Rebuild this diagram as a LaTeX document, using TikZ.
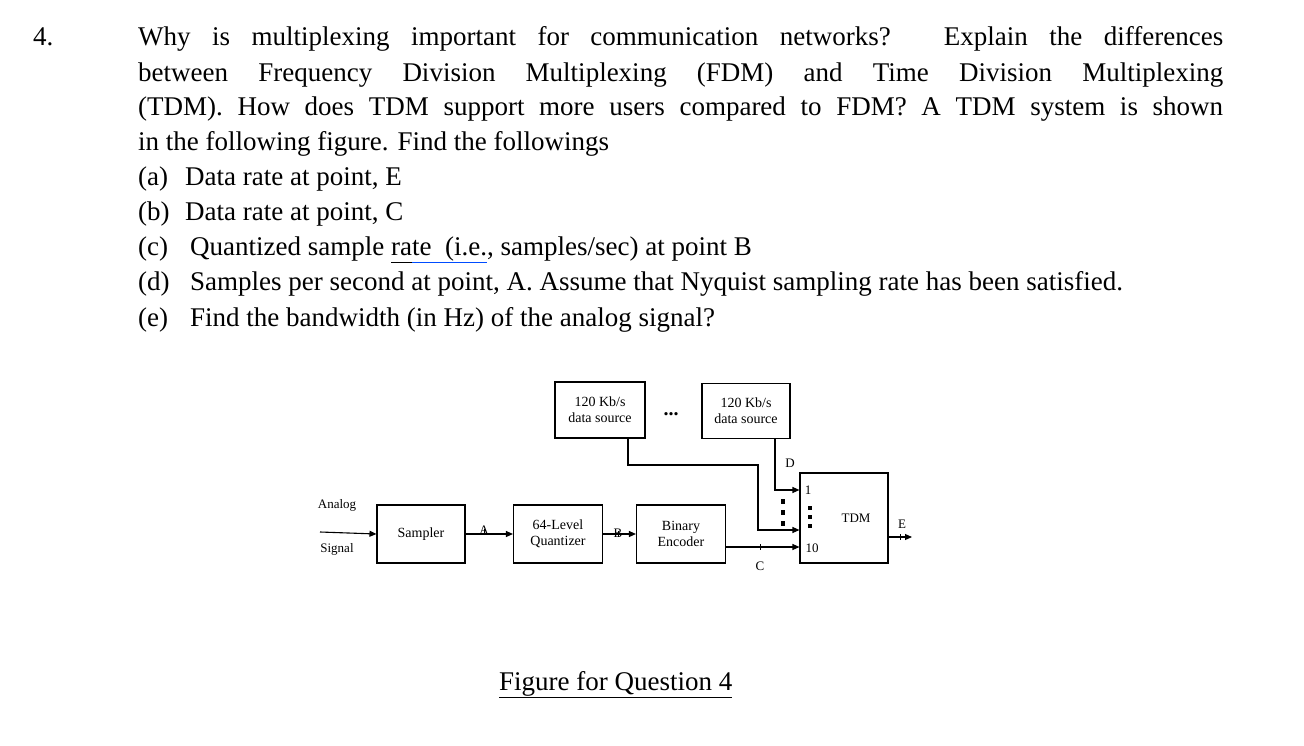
\documentclass[tikz,border=0pt]{standalone}
\usepackage{fontspec}
\setmainfont{Liberation Serif}
\usetikzlibrary{arrows.meta}
\begin{document}
\begin{tikzpicture}[x=1pt,y=-1pt,
  txt/.style={anchor=base west,inner sep=0pt,font=\fontsize{27}{33}\selectfont},
  blk/.style={draw,line width=1.1pt,inner sep=0pt,font=\fontsize{14}{16}\selectfont,align=center},
  sm/.style={inner sep=0pt,font=\fontsize{13}{15}\selectfont},
  ar/.style={line width=1.1pt,-{Triangle[length=7pt,width=6pt]}},
  ln/.style={line width=1.1pt}]
\useasboundingbox (0,0) rectangle (1304,746);
\node[txt] (n4) at (33,46) {4.};
\node[txt] (l1) at (138,46) {\makebox[1085pt][s]{Why is multiplexing important for communication networks? Explain the differences}};
\node[txt] (l2) at (138,82) {\makebox[1085pt][s]{between Frequency Division Multiplexing (FDM) and Time Division Multiplexing}};
\node[txt] (l3) at (138,116) {\makebox[1085pt][s]{(TDM). How does TDM support more users compared to FDM? A TDM system is shown}};
\node[txt] (l4) at (138,151) {in the following figure. Find the followings};
\node[txt] (a) at (138,186) {(a)};
\node[txt] (at) at (185,186) {Data rate at point, E};
\node[txt] (b) at (138,221) {(b)};
\node[txt] (bt) at (185,221) {Data rate at point, C};
\node[txt] (c) at (138,255) {(c)};
\node[txt] (ct) at (190,255) {Quantized sample \underline{rate\ \ (}i.e., samples/sec) at point B};
\node[txt] (d) at (138,290) {(d)};
\node[txt] (dt) at (190,290) {Samples per second at point, A. Assume that Nyquist sampling rate has been satisfied.};
\node[txt] (e) at (138,326) {(e)};
\node[txt] (et) at (190,326) {Find the bandwidth (in Hz) of the analog signal?};
\coordinate (u1) at (412,262); \coordinate (u2) at (487,262);
\draw[blue!70!cyan,line width=1pt] (u1) -- (u2);
% diagram
\node[blk,minimum width=88pt,minimum height=58pt] (smp) at (421,534) {Sampler};
\node[blk,minimum width=89pt,minimum height=58pt] (qz) at (558,534) {64-Level\\Quantizer};
\node[blk,minimum width=89pt,minimum height=58pt] (enc) at (681,534) {Binary\\Encoder};
\node[blk,minimum width=88pt,minimum height=90pt] (tdm) at (844,518) {};
\node[sm] (tdmt) at (856,518) {TDM};
\node[blk,minimum width=90pt,minimum height=56pt] (s1) at (600,410) {120 Kb/s\\data source};
\node[blk,minimum width=88pt,minimum height=55pt] (s2) at (746,411) {120 Kb/s\\data source};
\node[font=\fontsize{20}{20}\selectfont\bfseries,inner sep=0pt] (dots) at (671,414) {...};
\node[sm] (an) at (337,505) {Analog};
\node[sm] (sg) at (337,549) {Signal};
\coordinate (in) at (320,532);
\draw[ar] (in) -- (smp.west);
\draw[ar] (smp.east) -- (qz.west);
\node[sm] (la) at (484,530) {A};
\draw[ar] (qz.east) -- (enc.west);
\node[sm] (lb) at (618,533) {B};
\coordinate (c1) at (628,465); \coordinate (c2) at (758,465); \coordinate (c3) at (758,530);
\draw[ar] (s1.south -| c1) -- (c1) -- (c2) -- (c3) -- (c3 -| tdm.west);
\coordinate (d1) at (775,490);
\draw[ar] (s2.south -| d1) -- (d1) -- (d1 -| tdm.west);
\coordinate (e1) at (726,547);
\draw[ar] (e1) -- (e1 -| tdm.west);
\node[sm] (lc) at (760,566) {C};
\node[sm] (ld) at (790,463) {D};
\node[sm] (l1n) at (808,490) {1};
\node[sm] (l10) at (812,548) {10};
\node[sm] (le) at (902,524) {E};
\coordinate (eo) at (912,537);
\draw[ar] (tdm.east |- eo) -- (eo);
% ticks
\foreach \p/\q in {484/532,618/534,760/547,775/463,900/537}{\draw[line width=0.8pt] (\p,\q-3) -- (\p,\q+3);}
\foreach \yy in {499,510,521}{\fill (781,\yy) rectangle (785,\yy+5);}
\foreach \yy in {506,515,524}{\fill (808,\yy) rectangle (812,\yy+4);}
\node[txt] (cap) at (499,690) {\underline{Figure for Question 4}};
\end{tikzpicture}
\end{document}
